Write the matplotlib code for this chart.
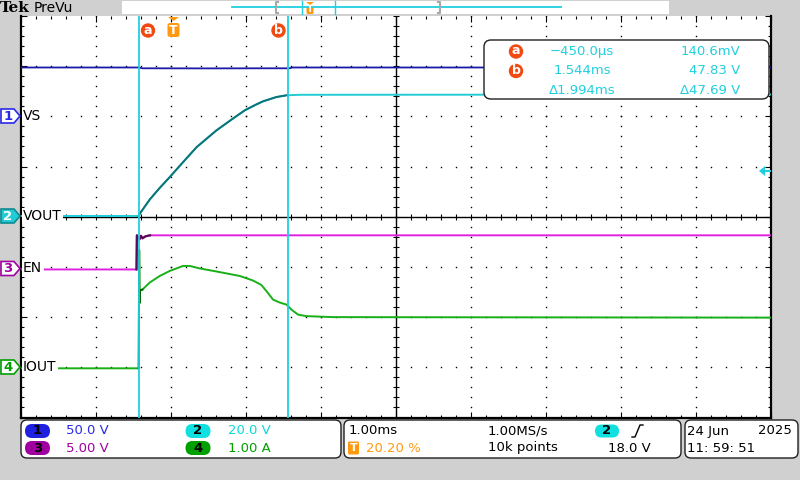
import numpy as np
import matplotlib.pyplot as plt
from matplotlib.patches import Polygon, FancyBboxPatch, Circle, Rectangle

plt.rcParams['font.family'] = ['DejaVu Sans']

# ---------------- scope settings ----------------
T_LEFT = -2.02          # ms at left edge (trigger at 20.20 %)
T_DIV = 1.0             # ms / div
CH_NAMES = ['VS', 'VOUT', 'EN', 'IOUT']
CH_SCALE = [50.0, 20.0, 5.0, 1.0]           # units / div
CH_OFFSET = [2.0, 0.0, -1.05, -3.02]        # div from centre
CH_UNITS = ['50.0 V', '20.0 V', '5.00 V', '1.00 A']
CURSOR_A = -0.45
CURSOR_B = 1.544
TRIG_LEVEL = 18.0

# ---------------- traces ----------------
VS_T = [-2.02, -0.45, -0.40, 0.5, 1.2, 1.56, 1.60, 7.98]
VS_V = [48.7, 48.7, 47.9, 47.8, 47.9, 47.9, 48.7, 48.7]

VOUT_T = [-2.02, -0.45, -0.43, -0.30, -0.17, -0.04, 0.10, 0.32, 0.585, 0.80,
          0.963, 1.10, 1.207, 1.385, 1.52, 1.70, 7.98]
VOUT_V = [0.3, 0.3, 1.5, 7.0, 11.5, 15.7, 20.4, 27.7, 34.4, 39.0,
          42.4, 44.5, 46.0, 47.7, 48.4, 48.6, 48.7]

EN_T = [-2.02, -0.48, -0.475, -0.44, -0.42, -0.40, -0.36, -0.30, 7.98]
EN_V = [0.0, 0.0, 3.4, 3.0, 3.35, 3.1, 3.3, 3.4, 3.4]

IOUT_T = [-2.02, -0.45, -0.445, -0.44, -0.435, -0.40, -0.303, -0.17, -0.037, 0.14,
          0.23, 0.363, 0.585, 0.897, 1.073, 1.185, 1.252, 1.34, 1.43, 1.52,
          1.585, 1.674, 1.785, 2.14, 7.98]
IOUT_A = [0.0, 0.0, 2.36, 1.3, 1.55, 1.57, 1.71, 1.84, 1.94, 2.04,
          2.04, 1.99, 1.93, 1.84, 1.75, 1.66, 1.54, 1.37, 1.31, 1.27,
          1.17, 1.07, 1.04, 1.02, 1.01]

MEAS_ROWS = [['a', '\u2212450.0\u00b5s', '140.6mV'],
             ['b', '1.544ms', '47.83 V'],
             ['', '\u03941.994ms', '\u039447.69 V']]

# colours
C1, C1_TXT = '#1a1aa8', '#2a2ae8'
C2, C2_DARK = '#22ccd6', '#0e7276'
C3, C3_DARK, C3_TXT = '#e020e0', '#5a0a5a', '#a000a0'
C4, C4_DARK, C4_TXT = '#18b018', '#006400', '#00a000'
CUR = '#20d0e0'
ORANGE = '#ff9a10'
RED = '#f04a12'
GRAY = '#d0d0d0'

fig = plt.figure(figsize=(8, 4.8), dpi=100, facecolor=GRAY)
ax = fig.add_axes([21 / 800, 1 - 417.5 / 480, 750 / 800, 401.5 / 480])
ax.set_facecolor('white')
ax.set_xlim(T_LEFT, T_LEFT + 10 * T_DIV)
ax.set_ylim(-4, 4)


def div(vals, ch):
    return CH_OFFSET[ch] + np.array(vals) / CH_SCALE[ch]


# graticule: dotted division lines, solid centre lines
xmaj = T_LEFT + np.arange(1, 10) * T_DIV
xmin = T_LEFT + np.arange(0, 50.01, 1) * 0.2 * T_DIV
ymin = np.arange(-4, 4.01, 0.2)
for k, xv in enumerate(xmaj):
    if k == 4:
        continue
    ax.plot(np.full_like(ymin, xv), ymin, ls='none', marker='s', ms=1.0, mew=0, color='black')
for yv in [-3, -2, -1, 1, 2, 3]:
    ax.plot(xmin, np.full_like(xmin, yv), ls='none', marker='s', ms=1.0, mew=0, color='black')
xc = T_LEFT + 5 * T_DIV
ax.axvline(xc, color='black', lw=1.0, zorder=1)
ax.axhline(0, color='black', lw=1.0, zorder=1)
ax.plot(np.full_like(ymin, xc), ymin, ls='none', marker='_', ms=4, mew=0.8, color='black')
ax.plot(xmin, np.zeros_like(xmin), ls='none', marker='|', ms=4, mew=0.8, color='black')

ax.set_xticks(T_LEFT + np.arange(0, 11) * T_DIV)
ax.set_xticks(xmin, minor=True)
ax.set_yticks(np.arange(-4, 5))
ax.set_yticks(ymin, minor=True)
ax.tick_params(which='both', direction='in', top=True, right=True,
               labelbottom=False, labelleft=False, color='black', width=0.8)
ax.tick_params(which='major', length=4)
ax.tick_params(which='minor', length=2)
ax.spines['top'].set_visible(False)
for s in ['left', 'right', 'bottom']:
    ax.spines[s].set_linewidth(1.6)

# traces
ax.plot(VS_T, div(VS_V, 0), color=C1, lw=1.3, zorder=3)
ax.plot(VOUT_T, div(VOUT_V, 1), color=C2, lw=1.4, zorder=3)
ax.plot(VOUT_T[1:15], div(VOUT_V[1:15], 1), color=C2_DARK, lw=1.4, zorder=3)
ax.plot(EN_T, div(EN_V, 2), color=C3, lw=1.4, zorder=3)
ax.plot(EN_T[1:8], div(EN_V[1:8], 2), color=C3_DARK, lw=1.6, zorder=3)
ax.plot(IOUT_T, div(IOUT_A, 3), color=C4, lw=1.4, zorder=3)
ax.plot(IOUT_T[1:6], div(IOUT_A[1:6], 3), color=C4_DARK, lw=1.4, zorder=3)

# cursors
ax.axvline(CURSOR_A, color=CUR, lw=1.3, zorder=4)
ax.axvline(CURSOR_B, color=CUR, lw=1.3, zorder=4)

# ---------------- overlay in pixel coordinates ----------------
ov = fig.add_axes([0, 0, 1, 1], zorder=5)
ov.patch.set_visible(False)
ov.set_xlim(0, 800)
ov.set_ylim(480, 0)
ov.axis('off')

# header
ov.text(0, 8, 'Tek', family='DejaVu Serif', weight='bold', fontsize=11, va='center', ha='left')
ov.text(34, 8, 'PreVu', fontsize=10, va='center', ha='left')
ov.add_patch(Rectangle((122, 1), 547, 13, facecolor='white', edgecolor='none'))
ov.plot([232, 561], [7, 7], color=CUR, lw=1.3)
for bx, d in [(276, 1), (440, -1)]:
    ov.plot([bx + 2 * d, bx, bx, bx + 2 * d], [2, 2, 13, 13], color='#a8a8a8', lw=1.5)
for bx in [302, 335]:
    ov.plot([bx, bx], [1, 14], color=CUR, lw=1.0)
ov.add_patch(Polygon([(306, 2), (314, 2), (310, 5)], facecolor=ORANGE, edgecolor='none'))
ov.add_patch(FancyBboxPatch((306.5, 5.5), 7, 8.5, boxstyle='round,pad=0,rounding_size=1.5',
                            facecolor=ORANGE, edgecolor='none'))
ov.text(310.2, 10, 'T', color='white', fontsize=6.5, weight='bold', ha='center', va='center')

# cursor tags and trigger marker on top of the graticule
for cx, lab in [(148, 'a'), (278.5, 'b')]:
    ov.add_patch(Circle((cx, 30.5), 7.2, facecolor=RED, edgecolor='none'))
    ov.text(cx, 30, lab, color='white', fontsize=9, weight='bold', ha='center', va='center')
ov.add_patch(Polygon([(168, 17), (179, 17), (173.5, 21)], facecolor=ORANGE, edgecolor='none'))
ov.add_patch(FancyBboxPatch((167.5, 23), 12, 14, boxstyle='round,pad=0,rounding_size=2.5',
                            facecolor=ORANGE, edgecolor='none'))
ov.text(173.5, 30.5, 'T', color='white', fontsize=9, weight='bold', ha='center', va='center')

# trigger level arrow on right edge
ty = 216 - 50 * (TRIG_LEVEL / CH_SCALE[1] + CH_OFFSET[1])
ov.add_patch(Polygon([(759, ty), (765, ty - 5), (765, ty + 5)], facecolor=CUR, edgecolor='none'))
ov.plot([764, 770], [ty, ty], color=CUR, lw=1.5)

# channel ground tags + labels
ch_col = [C1_TXT, C2, C3_TXT, C4_TXT]
for i in range(4):
    gy = 216 - 50 * CH_OFFSET[i]
    fill = C2 if i == 1 else 'white'
    ov.add_patch(Polygon([(1, gy - 7), (14, gy - 7), (20, gy), (14, gy + 7), (1, gy + 7)],
                         facecolor=fill, edgecolor=ch_col[i] if i != 1 else '#0e8a90', lw=1.2))
    ov.text(8, gy + 0.5, str(i + 1), color='white' if i == 1 else ch_col[i],
            fontsize=9.5, weight='bold', ha='center', va='center')
    ov.text(23, gy, CH_NAMES[i], color='black', fontsize=10, ha='left', va='center',
            bbox=dict(facecolor='white', edgecolor='none', pad=1.0))

# measurement readout
ov.add_patch(FancyBboxPatch((484, 40), 285, 59, boxstyle='round,pad=0,rounding_size=7',
                            facecolor='white', edgecolor='#202020', lw=1.0))
for r, (lab, tv, vv) in enumerate(MEAS_ROWS):
    ry = 51.5 + 19.5 * r
    if lab:
        ov.add_patch(Circle((516, ry), 7.2, facecolor=RED, edgecolor='none'))
        ov.text(516, ry - 0.5, lab, color='white', fontsize=9, weight='bold', ha='center', va='center')
    ov.text(582, ry, tv, color=CUR, fontsize=9.5, ha='center', va='center')
    ov.text(740, ry, vv, color=CUR, fontsize=9.5, ha='right', va='center')

# bottom info boxes
for x0, x1 in [(21, 341), (344, 681), (685, 798)]:
    ov.add_patch(FancyBboxPatch((x0, 420), x1 - x0, 38, boxstyle='round,pad=0,rounding_size=6',
                                facecolor='white', edgecolor='#202020', lw=1.0))

badge_fill = ['#2020e0', '#10e0e0', '#a000a0', '#00a000']
badge_pos = [(37.5, 431), (198, 431), (37.5, 448), (198, 448)]
text_x = [66, 228, 66, 228]
order = [0, 1, 2, 3]
ch_of_badge = [0, 1, 2, 3]
for k, i in enumerate([0, 1, 2, 3]):
    bx, by = badge_pos[k]
    ov.add_patch(FancyBboxPatch((bx - 12.5, by - 7), 25, 14, boxstyle='round,pad=0,rounding_size=7',
                                facecolor=badge_fill[i], edgecolor='none'))
    ov.text(bx, by, str(i + 1), color='black', fontsize=9.5, weight='bold', ha='center', va='center')
    ov.text(text_x[k], by, CH_UNITS[i], color=[C1_TXT, '#10d8d8', C3_TXT, C4_TXT][i],
            fontsize=9.5, ha='left', va='center')

ov.text(349, 431, '1.00ms', fontsize=9.5, ha='left', va='center')
ov.add_patch(FancyBboxPatch((348, 441.5), 11, 13, boxstyle='round,pad=0,rounding_size=1.5',
                            facecolor=ORANGE, edgecolor='none'))
ov.text(353.5, 448, 'T', color='white', fontsize=8, weight='bold', ha='center', va='center')
ov.text(366, 448, '20.20 %', color=ORANGE, fontsize=9.5, ha='left', va='center')
ov.text(488, 431, '1.00MS/s', fontsize=9.5, ha='left', va='center')
ov.text(488, 448, '10k points', fontsize=9.5, ha='left', va='center')
ov.add_patch(FancyBboxPatch((595, 424.5), 24, 13, boxstyle='round,pad=0,rounding_size=6.5',
                            facecolor='#10e0e0', edgecolor='none'))
ov.text(607, 431, '2', color='black', fontsize=9.5, weight='bold', ha='center', va='center')
ov.plot([632, 635, 640, 643], [437, 437, 425, 425], color='black', lw=1.0)
ov.text(651, 448, '18.0 V', fontsize=9.5, ha='right', va='center')
ov.text(687, 431, '24 Jun', fontsize=9.5, ha='left', va='center')
ov.text(792, 431, '2025', fontsize=9.5, ha='right', va='center')
ov.text(687, 448, '11: 59: 51', fontsize=9.5, ha='left', va='center')

fig.savefig('out.png', dpi=100, facecolor=GRAY)
